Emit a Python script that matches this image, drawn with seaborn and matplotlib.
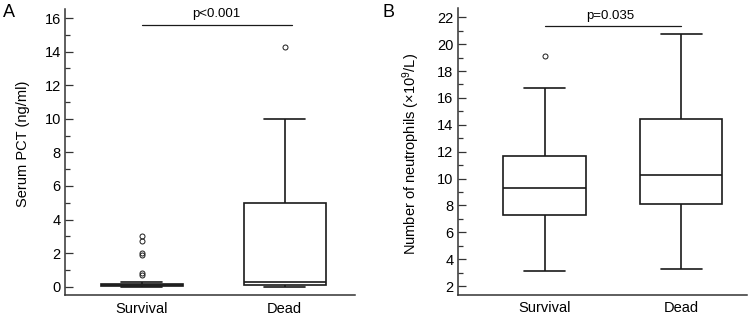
import numpy as np
import pandas as pd
import matplotlib
matplotlib.use("Agg")
import matplotlib.pyplot as plt
import seaborn as sns
from matplotlib.ticker import MultipleLocator

# ---- data ----
groups = ["Survival", "Dead"]
# five-number summaries: [lower whisker, Q1, median, Q3, upper whisker]
pct_survival = [0.0, 0.05, 0.10, 0.15, 0.28]
pct_dead = [0.0, 0.10, 0.25, 5.0, 10.0]
pct_survival_out = [0.72, 0.82, 1.88, 2.0, 2.7, 3.0]
pct_dead_out = [14.3]
neu_survival = [3.1, 7.25, 9.3, 11.7, 16.75]
neu_dead = [3.3, 8.1, 10.3, 14.45, 20.75]
neu_survival_out = [19.1]
neu_dead_out = []
p_texts = ["p<0.001", "p=0.035"]
ylabels = ["Serum PCT (ng/ml)", r"Number of neutrophils (×10$^{9}$/L)"]
panel_letters = ["A", "B"]


def sample(stats, outliers):
    lo, q1, med, q3, hi = stats
    return [lo] + [q1] * 10 + [med] * 10 + [q3] * 10 + [hi] + list(outliers)


def frame(s_stats, s_out, d_stats, d_out):
    s = sample(s_stats, s_out)
    d = sample(d_stats, d_out)
    return pd.DataFrame({"group": [groups[0]] * len(s) + [groups[1]] * len(d),
                         "value": s + d})


df_pct = frame(pct_survival, pct_survival_out, pct_dead, pct_dead_out)
df_neu = frame(neu_survival, neu_survival_out, neu_dead, neu_dead_out)

sns.set_style("ticks")
plt.rcParams["font.family"] = ["Liberation Sans", "DejaVu Sans"]
plt.rcParams["mathtext.fontset"] = "custom"
plt.rcParams["mathtext.rm"] = "Liberation Sans"
plt.rcParams["mathtext.it"] = "Liberation Sans:italic"
plt.rcParams["text.color"] = "black"
plt.rcParams["axes.labelcolor"] = "black"
plt.rcParams["xtick.labelcolor"] = "black"
plt.rcParams["ytick.labelcolor"] = "black"

fig = plt.figure(figsize=(7.5, 3.16), dpi=100)
W, H = 750, 316
axA = fig.add_axes([65 / W, 1 - 295 / H, 290 / W, 286 / H])
axB = fig.add_axes([457.5 / W, 1 - 294.5 / H, 290 / W, 286.2 / H])

LC = "#1a1a1a"
flier = dict(marker="o", markerfacecolor="none", markeredgecolor=LC,
             markeredgewidth=0.7, markersize=3.6)

sns.boxplot(data=df_pct, x="group", y="value", ax=axA, order=groups,
            width=0.575, color="white", linecolor=LC, linewidth=1.2,
            flierprops=flier)
sns.boxplot(data=df_neu, x="group", y="value", ax=axB, order=groups,
            width=0.6, color="white", linecolor=LC, linewidth=1.2,
            flierprops=flier)

axA.set_xlim(-0.536, 1.492)
axA.set_ylim(-0.495, 16.54)
axB.set_xlim(-0.636, 1.484)
axB.set_ylim(1.37, 22.67)

axA.yaxis.set_major_locator(MultipleLocator(2))
axA.yaxis.set_minor_locator(MultipleLocator(1))
axB.yaxis.set_major_locator(MultipleLocator(2))
axB.yaxis.set_minor_locator(MultipleLocator(1))

for ax, lab, lc in [(axA, ylabels[0], (-0.12, 0.53)), (axB, ylabels[1], (-0.124, 0.49))]:
    for s in ["top", "right"]:
        ax.spines[s].set_visible(False)
    for s in ["left", "bottom"]:
        ax.spines[s].set_linewidth(1.1)
        ax.spines[s].set_color("#333333")
    ax.set_xlabel("")
    ax.set_ylabel(lab, fontsize=10.5)
    ax.yaxis.set_label_coords(*lc)
    ax.tick_params(axis="y", which="major", direction="in", length=6,
                   width=0.9, labelsize=10.5, pad=3, color="#333333")
    ax.tick_params(axis="y", which="minor", direction="in", length=3.5,
                   width=0.9, color="#333333")
    ax.tick_params(axis="x", length=0, labelsize=10.5, pad=5)

# significance bars
axA.plot([0, 1.05], [15.6, 15.6], color=LC, lw=0.9, clip_on=False)
axA.text(0.52, 16.08, p_texts[0], ha="center", va="baseline", fontsize=9.5)
axB.plot([0, 1.0], [21.35, 21.35], color=LC, lw=0.9, clip_on=False)
axB.text(0.48, 21.91, p_texts[1], ha="center", va="baseline", fontsize=9.5)

fig.text(3 / W, 1 - 17 / H, panel_letters[0], fontsize=13, va="baseline")
fig.text(382 / W, 1 - 17 / H, panel_letters[1], fontsize=13, va="baseline")

fig.savefig("out.png", dpi=100)
